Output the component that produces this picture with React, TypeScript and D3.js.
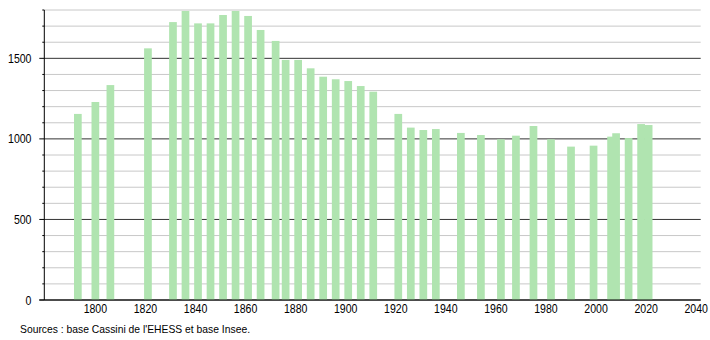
import React from "react";
import * as d3 from "d3";

const years = [1793, 1800, 1806, 1821, 1831, 1836, 1841, 1846, 1851, 1856, 1861, 1866, 1872, 1876, 1881, 1886, 1891, 1896, 1901, 1906, 1911, 1921, 1926, 1931, 1936, 1946, 1954, 1962, 1968, 1975, 1982, 1990, 1999, 2006, 2008, 2013, 2018, 2021];
const population = [1155, 1229, 1334, 1562, 1725, 1794, 1717, 1717, 1769, 1794, 1763, 1676, 1608, 1490, 1490, 1438, 1386, 1370, 1359, 1328, 1293, 1155, 1070, 1055, 1061, 1037, 1024, 997, 1020, 1080, 997, 952, 958, 1014, 1035, 1005, 1092, 1086];
const xTicks = [1800, 1820, 1840, 1860, 1880, 1900, 1920, 1940, 1960, 1980, 2000, 2020, 2040];
const yMajor = [0, 500, 1000, 1500];
const yMinor = [100, 200, 300, 400, 600, 700, 800, 900, 1100, 1200, 1300, 1400, 1600, 1700, 1800];
const sourceText = "Sources : base Cassini de l'EHESS et base Insee.";

const W = 710;
const H = 340;
const left = 44.3;
const right = 700.7;
const top = 10;
const bottom = 300;

export default function App() {
  const x = d3.scaleLinear().domain([1779.6, 2041.8]).range([left, right]);
  const y = d3.scaleLinear().domain([0, 1800]).range([bottom, top]);
  const halfW = 1.54;
  const font = "'Liberation Sans', Arial, sans-serif";
  return (
    <svg width={W} height={H} style={{ position: "absolute", left: 0, top: 0, background: "#fff" }}>
      {yMinor.map((v) => (
        <g key={"mi" + v}>
          <line x1={left} x2={right} y1={y(v)} y2={y(v)} stroke="#c8c8c8" strokeWidth={1} />
          <line x1={left - 2} x2={left} y1={y(v)} y2={y(v)} stroke="#000" strokeWidth={1} />
        </g>
      ))}
      {yMajor.map((v) => (
        <g key={"ma" + v}>
          <line x1={left} x2={right} y1={y(v)} y2={y(v)} stroke="#333" strokeWidth={1} />
          <line x1={left - 5} x2={left} y1={y(v)} y2={y(v)} stroke="#000" strokeWidth={1} />
        </g>
      ))}
      {years.map((yr, i) => (
        <rect
          key={yr}
          x={x(yr - halfW)}
          width={x(yr + halfW) - x(yr - halfW)}
          y={y(population[i])}
          height={y(0) - y(population[i])}
          fill="#b0e4b0"
        />
      ))}
      <line x1={left} x2={left} y1={top} y2={bottom} stroke="#000" strokeWidth={1} />
      <line x1={left - 5} x2={right} y1={bottom} y2={bottom} stroke="#000" strokeWidth={1.2} />
      {yMajor.map((v) => (
        <text
          key={"yl" + v}
          transform={`translate(31.5,${y(v) + 4.5}) scale(0.88,1)`}
          textAnchor="end"
          fontFamily={font}
          fontSize={12}
          fill="#000"
        >
          {v}
        </text>
      ))}
      {xTicks.map((t) => (
        <text
          key={"xl" + t}
          transform={`translate(${x(t)},313) scale(0.88,1)`}
          textAnchor="middle"
          fontFamily={font}
          fontSize={12}
          fill="#000"
        >
          {t}
        </text>
      ))}
      <text x={20} y={333} fontFamily={font} fontSize={11} fill="#000" textLength={230} lengthAdjust="spacingAndGlyphs">
        {sourceText}
      </text>
    </svg>
  );
}
